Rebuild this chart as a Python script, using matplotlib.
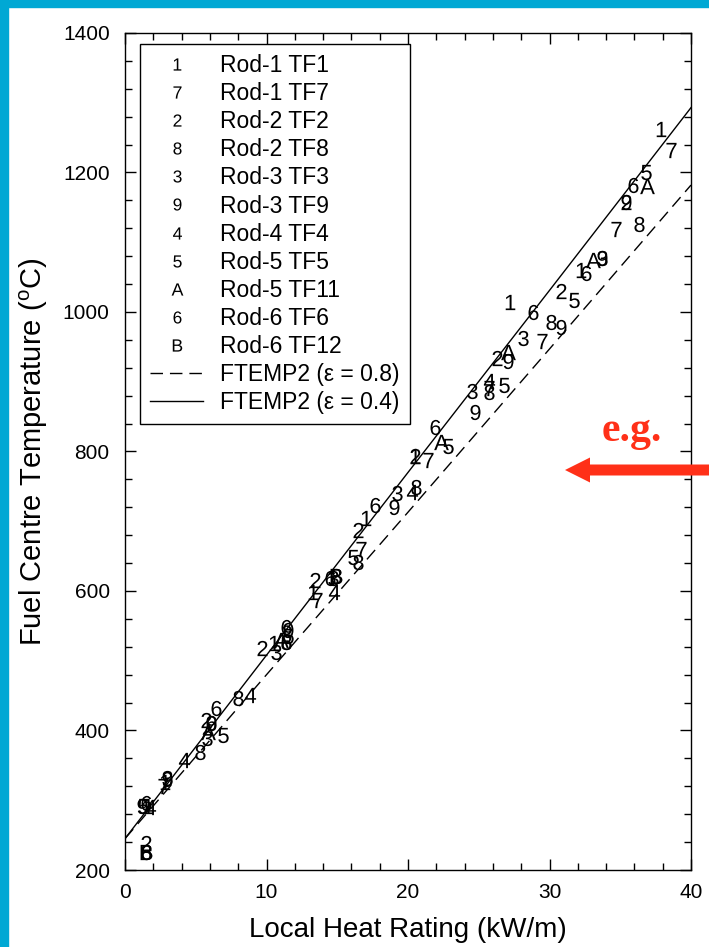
import matplotlib
matplotlib.use('Agg')
import matplotlib.pyplot as plt
from matplotlib.patches import Rectangle, FancyArrow

plt.rcParams.update({
    'font.family': ['Liberation Sans', 'DejaVu Sans'],
    'mathtext.fontset': 'custom',
    'mathtext.rm': 'Liberation Sans',
    'mathtext.it': 'Liberation Sans',
    'font.size': 14,
})

# measured points: (heat rating kW/m, centre temperature C)
labels = ['Rod-1 TF1', 'Rod-1 TF7', 'Rod-2 TF2', 'Rod-2 TF8', 'Rod-3 TF3', 'Rod-3 TF9',
          'Rod-4 TF4', 'Rod-5 TF5', 'Rod-5 TF11', 'Rod-6 TF6', 'Rod-6 TF12']
symbols = ['1', '7', '2', '8', '3', '9', '4', '5', 'A', '6', 'B']

x_tf1 = [37.9, 32.2, 27.2, 20.5, 17.0, 13.3, 10.5, 2.8, 1.6]
y_tf1 = [1262, 1060, 1015, 794, 705, 599, 526, 326, 292]
x_tf7 = [38.6, 34.7, 29.5, 25.7, 21.4, 16.7, 13.6, 2.7]
y_tf7 = [1232, 1119, 959, 891, 788, 660, 587, 320]
x_tf2 = [35.4, 30.8, 26.3, 20.5, 16.5, 13.4, 9.7, 5.7, 1.5]
y_tf2 = [1158, 1030, 934, 794, 688, 616, 518, 415, 239]
x_tf8 = [36.3, 30.1, 25.7, 20.6, 16.5, 14.9, 11.4, 8.0, 5.3, 1.5]
y_tf8 = [1126, 986, 885, 749, 641, 622, 527, 447, 369, 226]
x_tf3 = [33.7, 28.1, 24.5, 19.2, 14.7, 10.7, 5.8, 3.0]
y_tf3 = [1078, 963, 887, 741, 619, 513, 389, 332]
x_tf9 = [35.4, 33.7, 30.8, 27.1, 24.7, 19.0, 11.5, 6.1, 3.0, 1.2]
y_tf9 = [1158, 1078, 979, 930, 857, 720, 544, 411, 330, 292]
x_tf4 = [25.7, 20.3, 14.8, 8.8, 4.2, 1.8]
y_tf4 = [901, 742, 599, 451, 358, 291]
x_tf5 = [36.8, 31.7, 26.8, 22.8, 16.1, 11.5, 6.9, 1.3]
y_tf5 = [1201, 1017, 895, 808, 649, 535, 394, 292]
x_tf11 = [36.9, 33.1, 27.1, 22.3, 11.0, 5.9]
y_tf11 = [1181, 1075, 943, 814, 530, 398]
x_tf6 = [35.9, 32.6, 28.8, 21.9, 17.7, 14.5, 11.4, 11.4, 6.4, 6.1, 1.5, 1.5]
y_tf6 = [1182, 1056, 1000, 835, 723, 619, 548, 527, 432, 411, 296, 226]
x_tf12 = [14.9, 1.5]
y_tf12 = [622, 226]

xs = [x_tf1, x_tf7, x_tf2, x_tf8, x_tf3, x_tf9, x_tf4, x_tf5, x_tf11, x_tf6, x_tf12]
ys = [y_tf1, y_tf7, y_tf2, y_tf8, y_tf3, y_tf9, y_tf4, y_tf5, y_tf11, y_tf6, y_tf12]

# FTEMP2 predictions
x_model = [0, 10, 20, 30, 40]
y_eps08 = [245, 480, 713, 947, 1182]
y_eps04 = [245, 508, 770, 1031, 1293]

fig = plt.figure(figsize=(7.09, 9.47), dpi=100)
fig.patches.append(Rectangle((0, 0), 8 / 709, 1, transform=fig.transFigure,
                             color='#00A8D4', zorder=0))
fig.patches.append(Rectangle((0, 1 - 7 / 947), 1, 7 / 947, transform=fig.transFigure,
                             color='#00A8D4', zorder=0))

ax = fig.add_axes([125 / 709, 1 - 870 / 947, 566 / 709, 837 / 947])

for sx, sy, sym, lab in zip(xs, ys, symbols, labels):
    ax.plot(sx, sy, ls='none', marker=r'$\mathrm{%s}$' % sym, color='black',
            markersize=11, markeredgewidth=0, label=lab)

ax.plot(x_model, y_eps08, color='black', lw=1, ls=(0, (9, 5)), label='FTEMP2 (ε = 0.8)')
ax.plot(x_model, y_eps04, color='black', lw=1, label='FTEMP2 (ε = 0.4)')

ax.set_xlim(0, 40)
ax.set_ylim(200, 1400)
ax.set_xticks([0, 10, 20, 30, 40])
ax.set_xticks(range(0, 41, 2), minor=True)
ax.set_yticks(range(200, 1401, 200))
ax.set_yticks(range(200, 1401, 40), minor=True)
ax.tick_params(which='both', direction='in', top=True, right=True, width=1)
ax.tick_params(which='major', length=8, labelsize=15)
ax.tick_params(axis='x', which='major', pad=9)
ax.tick_params(axis='y', which='major', pad=11)
ax.tick_params(which='minor', length=5)
for s in ax.spines.values():
    s.set_linewidth(1)

ax.set_xlabel('Local Heat Rating (kW/m)', fontsize=20, labelpad=11)
ax.set_ylabel(r'Fuel Centre Temperature ($^{\mathrm{o}}$C)', fontsize=21, labelpad=9)

leg = ax.legend(loc='upper left', fontsize=16.5, frameon=True, fancybox=False,
                edgecolor='black', framealpha=1, handlelength=2.3, handletextpad=0.75,
                labelspacing=0.22, markerscale=0.8, borderpad=0.45, borderaxespad=0,
                bbox_to_anchor=(15 / 566, 1 - 11 / 837))
leg.get_frame().set_linewidth(1)

# red "e.g." pointer
fig.patches.append(FancyArrow(709, 947 - 470, -144, 0, width=11, head_width=25,
                              head_length=25, length_includes_head=True,
                              transform=None, color='#FF3018', lw=0, zorder=5))
fig.text(632 / 709, 1 - 441 / 947, 'e.g.', color='#FF3018', fontsize=30,
         fontweight='bold', family='Liberation Serif', ha='center', va='baseline')

fig.savefig('out.png', dpi=100)
